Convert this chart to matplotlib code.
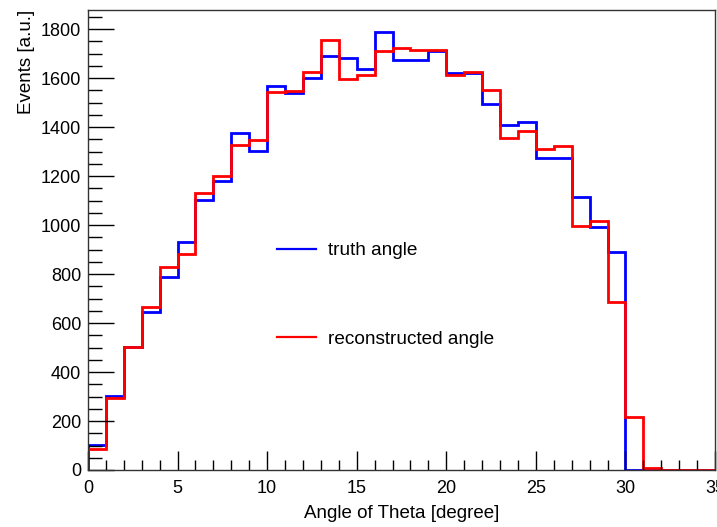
import numpy as np
import matplotlib.pyplot as plt
from matplotlib.ticker import MultipleLocator

# theta histogram, 1 degree bins from 0 to 35
bin_edges = np.arange(0, 36, 1)

truth_counts = [101, 303, 501, 645, 788, 929, 1102, 1180, 1374, 1303,
                1567, 1539, 1599, 1690, 1680, 1637, 1789, 1672, 1672, 1710,
                1622, 1620, 1496, 1408, 1420, 1273, 1273, 1113, 993, 889,
                2, 2, 0, 0, 0]

reco_counts = [86, 295, 501, 664, 830, 880, 1132, 1200, 1327, 1347,
               1544, 1548, 1624, 1754, 1595, 1611, 1712, 1724, 1716, 1716,
               1612, 1624, 1551, 1354, 1383, 1309, 1322, 996, 1018, 686,
               216, 8, 1, 1, 1]

label_truth = "truth angle"
label_reco = "reconstructed angle"
xlabel = "Angle of Theta [degree]"
ylabel = "Events [a.u.]"

plt.rcParams['font.family'] = ['Liberation Sans', 'DejaVu Sans']

fig = plt.figure(figsize=(7.17, 5.27), dpi=100)
ax = fig.add_axes([88 / 717, 57 / 527, 627 / 717, 460 / 527])

ax.stairs(truth_counts, bin_edges, color='#0000ff', linewidth=2, label=label_truth)
ax.stairs(reco_counts, bin_edges, color='#ff0000', linewidth=2, label=label_reco)

ax.set_xlim(0, 35)
ax.set_ylim(0, 1878)

ax.xaxis.set_major_locator(MultipleLocator(5))
ax.xaxis.set_minor_locator(MultipleLocator(1))
ax.yaxis.set_major_locator(MultipleLocator(200))
ax.yaxis.set_minor_locator(MultipleLocator(50))

ax.tick_params(axis='both', which='both', direction='in', top=False, right=False,
               color='black', width=1, labelsize=13)
ax.tick_params(axis='x', which='major', length=14, pad=7)
ax.tick_params(axis='x', which='minor', length=7)
ax.tick_params(axis='y', which='major', length=19, pad=5)
ax.tick_params(axis='y', which='minor', length=10)

for sp in ax.spines.values():
    sp.set_linewidth(1)
    sp.set_color('#333333')

ax.set_xlabel(xlabel, fontsize=13.5, labelpad=6)
ax.set_ylabel(ylabel, fontsize=13.5, labelpad=4, loc='top')

leg = ax.legend(loc='upper left', bbox_to_anchor=(0.289, 0.512), frameon=False,
                fontsize=13.7, handlelength=2.05, handletextpad=0.63,
                labelspacing=3.74, borderaxespad=0)
for h in leg.get_lines():
    h.set_linewidth(1.6)

fig.savefig('out.png', dpi=100)
